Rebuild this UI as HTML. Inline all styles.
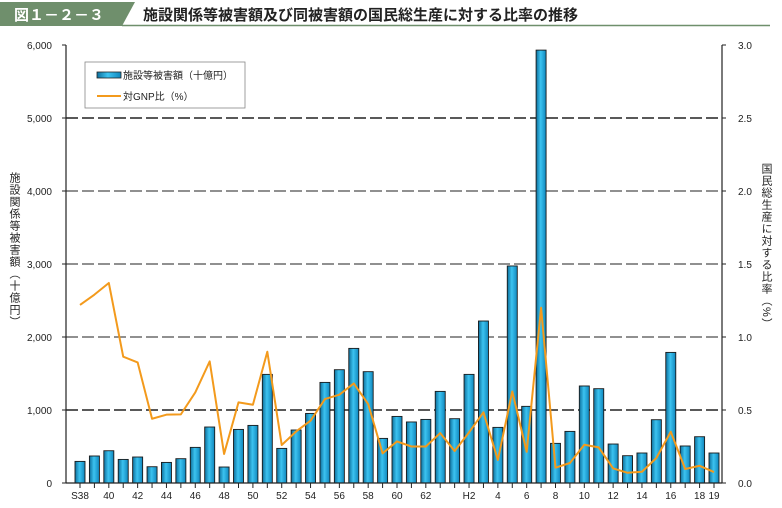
<!DOCTYPE html>
<html><head><meta charset="utf-8"><style>
body{margin:0;background:#fff;width:782px;height:503px;overflow:hidden;font-family:"Liberation Sans","Noto Sans CJK JP",sans-serif}
svg text{font-family:"Liberation Sans","Noto Sans CJK JP",sans-serif}
</style></head><body>
<svg width="782" height="503" viewBox="0 0 782 503">
<defs><linearGradient id="bg" x1="0" x2="1" y1="0" y2="0"><stop offset="0" stop-color="#0d6f9c"/><stop offset="0.45" stop-color="#3cc3f0"/><stop offset="1" stop-color="#0f86bd"/></linearGradient></defs>
<g>
<polygon points="0,2 135,2 122,26 0,26" fill="#6f8f6c"/>
<text x="14" y="20" fill="#fff" font-size="15" font-weight="bold">図１－２－３</text>
<line x1="122" y1="25.5" x2="770" y2="25.5" stroke="#6f8f6c" stroke-width="1.5"/>
<text x="143" y="20" font-size="15" font-weight="bold" fill="#222">施設関係等被害額及び同被害額の国民総生産に対する比率の推移</text>
</g>
<g id="grid"></g><g id="bars"></g><g id="line"></g><g id="axes"></g>
<g>
<rect x="85" y="62" width="160" height="46" fill="#fff" stroke="#888" stroke-width="0.8"/>
<rect x="97" y="72" width="24" height="6" fill="url(#bg)" stroke="#222" stroke-width="0.8"/>
<text x="123" y="79" font-size="10" fill="#222">施設等被害額（十億円）</text>
<line x1="97" y1="96" x2="121" y2="96" stroke="#f39a1c" stroke-width="2"/>
<text x="123" y="100" font-size="10" fill="#222">対GNP比（%）</text>
</g>
<text font-size="11" fill="#222" style="writing-mode:vertical-rl" x="14" y="172" letter-spacing="1">施設関係等被害額（十億円）</text>
<text font-size="11" fill="#222" style="writing-mode:vertical-rl" x="766" y="163" letter-spacing="1">国民総生産に対する比率（%）</text>
</svg>
<script>
const categories=["S38","39","40","41","42","43","44","45","46","47","48","49","50","51","52","53","54","55","56","57","58","59","60","61","62","63","H1","H2","3","4","5","6","7","8","9","10","11","12","13","14","15","16","17","18","19"];
const tickLabels=["S38","","40","","42","","44","","46","","48","","50","","52","","54","","56","","58","","60","","62","","","H2","","4","","6","","8","","10","","12","","14","","16","","18","19"];
const damage=[296,370,442,323,356,223,282,333,488,767,219,734,789,1488,474,726,953,1378,1552,1844,1525,611,912,836,871,1255,881,1488,2219,762,2973,1050,5930,543,707,1329,1292,534,374,411,867,1789,507,634,411];
const gnpRatio=[1.22,1.29,1.37,0.865,0.826,0.44,0.468,0.47,0.62,0.833,0.199,0.552,0.536,0.899,0.26,0.353,0.427,0.575,0.605,0.682,0.541,0.203,0.285,0.25,0.25,0.342,0.219,0.347,0.484,0.158,0.627,0.214,1.20,0.105,0.137,0.262,0.244,0.1,0.07,0.077,0.171,0.351,0.096,0.118,0.075];
const leftTicks=[0,1000,2000,3000,4000,5000,6000];
const leftTickLabels=["0","1,000","2,000","3,000","4,000","5,000","6,000"];
const rightTickLabels=["0.0","0.5","1.0","1.5","2.0","2.5","3.0"];
const NS="http://www.w3.org/2000/svg";
const X0=66,X1=722,Y0=483,Y1=45;
const xs=i=>80+i*(714-80)/(categories.length-1);
const yL=v=>Y0-(v/6000)*(Y0-Y1);
const yR=v=>Y0-(v/3)*(Y0-Y1);
function mk(p,t,a){const e=document.createElementNS(NS,t);for(const k in a)e.setAttribute(k,a[k]);p.appendChild(e);return e;}
const grid=document.getElementById('grid'),bars=document.getElementById('bars'),line=document.getElementById('line'),axes=document.getElementById('axes');
leftTicks.forEach((v,i)=>{const y=yL(v);
 if(i>0&&i<6){const g=mk(grid,'line',{x1:X0,x2:X1,y1:y,y2:y,stroke:'#222','stroke-width':(i==1||i==5)?1.6:1,'stroke-dasharray':'12,4'});
 
 }
 const t=mk(axes,'text',{x:52,y:y+4,'font-size':10,'text-anchor':'end',fill:'#222'});t.textContent=leftTickLabels[i];
 
 
 const r=mk(axes,'text',{x:738,y:y+4,'font-size':10,fill:'#222'});r.textContent=rightTickLabels[i];
 
 
 mk(axes,'line',{x1:X0-4,x2:X0,y1:y,y2:y,stroke:'#222'});
 mk(axes,'line',{x1:X1,x2:X1+4,y1:y,y2:y,stroke:'#222'});
});
damage.forEach((v,i)=>{const b=mk(bars,'rect',{x:xs(i)-5,y:yL(v),width:10,height:Y0-yL(v),fill:'url(#bg)',stroke:'#1a1a1a','stroke-width':0.9});
 
 });
const pl=mk(line,'polyline',{points:gnpRatio.map((v,i)=>xs(i)+','+yR(v)).join(' '),fill:'none',stroke:'#f39a1c','stroke-width':2,'stroke-linejoin':'round'});


mk(axes,'line',{x1:X0,x2:X0,y1:Y1,y2:Y0,stroke:'#222','stroke-width':1.2});
mk(axes,'line',{x1:X1,x2:X1,y1:Y1,y2:Y0,stroke:'#222','stroke-width':1.2});
mk(axes,'line',{x1:X0,x2:X1,y1:Y0,y2:Y0,stroke:'#222','stroke-width':1.2});
categories.forEach((c,i)=>{const x=xs(i);mk(axes,'line',{x1:x,x2:x,y1:Y0,y2:Y0+5,stroke:'#222'});
 if(tickLabels[i]){const t=mk(axes,'text',{x:x,y:499,'font-size':10,'text-anchor':'middle',fill:'#222'});t.textContent=tickLabels[i];
 
 }});
</script>
</body></html>
